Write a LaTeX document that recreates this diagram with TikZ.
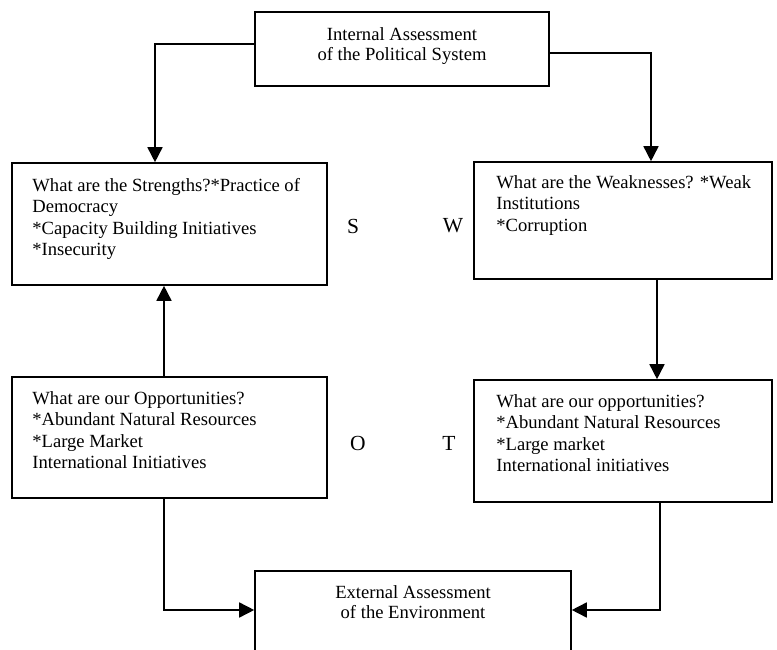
\documentclass[tikz,border=0pt]{standalone}
\usepackage{fontspec}
\setmainfont{Liberation Serif}
\usetikzlibrary{arrows.meta,positioning}

\begin{document}
\begin{tikzpicture}[x=1pt, y=-1pt,
    box/.style={draw, line width=1.6pt, inner sep=0pt},
    boxtext/.style={font=\fontsize{18.6}{21.5}\selectfont, align=left, inner sep=0pt, anchor=north west},
    headtext/.style={font=\fontsize{18.6}{20}\selectfont, align=center, inner sep=0pt, anchor=north},
    swot/.style={font=\fontsize{21.5}{24}\selectfont, inner sep=0pt},
    link/.style={line width=1.6pt, -{Triangle[length=15pt,width=15pt]}}]
    \useasboundingbox (0,0) rectangle (777,650);

    % Internal assessment on top
    \node[box, minimum width=294pt, minimum height=74pt] (int) at (402,49) {};
    \node[headtext] (inttxt) at ([yshift=-16pt]int.north) {Internal Assessment\\of the Political System};

    % The four boxes
    \node[box, minimum width=315pt, minimum height=122pt] (st) at (169.5,224) {};
    \node[boxtext] (sttxt) at ([shift={(21pt,-16pt)}]st.north west)
        {What are the Strengths?*Practice of\\Democracy\\*Capacity Building Initiatives\\*Insecurity};
    \node[box, minimum width=298pt, minimum height=117pt] (we) at (623,220.5) {};
    \node[boxtext] (wetxt) at ([shift={(23pt,-14pt)}]we.north west)
        {What are the Weaknesses? *Weak\\Institutions\\*Corruption};
    \node[box, minimum width=315pt, minimum height=121pt] (op) at (169.5,437.5) {};
    \node[boxtext] (optxt) at ([shift={(21pt,-15pt)}]op.north west)
        {What are our Opportunities?\\*Abundant Natural Resources\\*Large Market\\International Initiatives};
    \node[box, minimum width=298pt, minimum height=122pt] (th) at (623,441) {};
    \node[boxtext] (thtxt) at ([shift={(23pt,-15pt)}]th.north west)
        {What are our opportunities?\\*Abundant Natural Resources\\*Large market\\International initiatives};

    % External assessment at the bottom
    \node[box, minimum width=316pt, minimum height=94pt] (ext) at (413,618) {};
    \node[headtext] (exttxt) at ([yshift=-15pt]ext.north) {External Assessment\\of the Environment};

    % Letters
    \node[swot] (s) at (353,226) {S};
    \node[swot] (w) at (453,226) {W};
    \node[swot] (o) at (358,443) {O};
    \node[swot] (t) at (449,443) {T};

    % Arrows
    \draw[link] ([yshift=5pt]int.west) -| ([xshift=-14.5pt]st.north);
    \draw[link] ([yshift=-4pt]int.east) -| ([xshift=28pt]we.north);
    \draw[link] ([xshift=34pt]we.south) -- ([xshift=34pt]th.north);
    \draw[link] ([xshift=-5.5pt]op.north) -- ([xshift=-5.5pt]st.south);
    \draw[link] ([xshift=-5.5pt]op.south) |- ([yshift=8pt]ext.west);
    \draw[link] ([xshift=37pt]th.south) |- ([yshift=8pt]ext.east);
\end{tikzpicture}
\end{document}
